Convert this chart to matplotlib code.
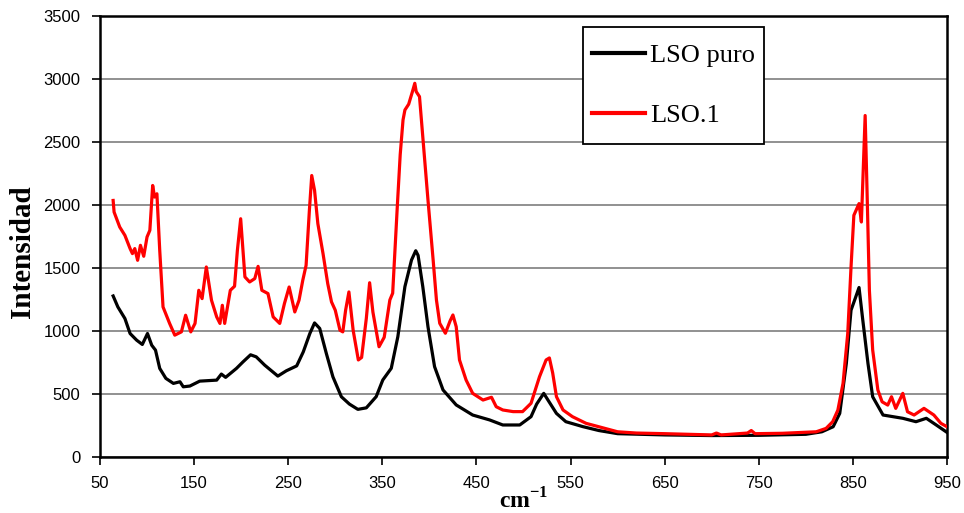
import matplotlib
matplotlib.use("Agg")
import matplotlib.pyplot as plt
import numpy as np

# LSO puro spectrum (wavenumber, intensity)
puro_x = [64, 69, 76.5, 82, 89, 95, 100.5, 105, 109, 113.5, 120, 128, 135, 138.5, 145.5,
          156, 174, 179, 183.5, 195, 202, 210, 216, 225, 239, 248, 259, 266, 273, 278,
          283.5, 290.5, 297.5, 306.5, 315, 324, 333, 343.5, 350.5, 359.5, 366.5, 374,
          381, 385.5, 388, 393, 398.5, 405.5, 414.5, 428.5, 446, 464, 478, 496, 508, 514,
          521.5, 527, 535, 545, 563, 580, 600, 650, 700, 750, 800, 817, 829, 836, 843,
          848, 853, 856.5, 860.5, 866, 871, 882, 903, 917, 928, 938.5, 950]
puro_y = [1278, 1191, 1099, 980, 927, 893, 980, 887, 848, 703, 624, 584, 597, 557, 563,
          602, 610, 658, 632, 703, 755, 811, 795, 729, 642, 684, 723, 834, 980, 1064,
          1020, 822, 636, 478, 420, 378, 390, 479, 611, 704, 955, 1352,
          1563, 1637, 1600, 1352, 1034, 717, 532, 413, 333, 294, 254, 254, 320, 420,
          505, 440, 346, 280, 241, 210, 185, 175, 170, 172, 180, 200, 240, 346, 742,
          1165, 1270, 1345, 1086, 742, 478, 333, 307, 280, 307, 254, 195]

# LSO.1 spectrum
lso1_x = [64, 65, 71, 76.5, 82, 84.5, 87, 90, 93, 96.5, 100, 103, 106, 108, 110.5, 113.5,
          117, 124, 129.5, 136.5, 141, 146.5, 151, 155, 158.5, 163, 168.5, 174, 177.5,
          180, 182.5, 188.5, 193, 196, 199.5, 204, 209, 214.5, 218, 222, 228.5, 234,
          241, 246, 251, 257, 261.5, 265.5, 269, 272.5, 275, 278, 281.5, 287, 292,
          296, 300, 305, 308, 311, 314.5, 319, 324.5, 328, 333, 336.5, 340, 346.5, 352,
          358, 361, 366, 369, 372, 374, 378, 382, 384.5, 386, 389.5, 395, 398.5, 404,
          407.5, 411, 417, 422, 425, 428.5, 432, 439, 446, 457, 466, 471, 478, 489,
          499, 508, 517, 524, 527.5, 531, 535, 542, 552, 566.5, 580, 600, 620, 650,
          700, 705, 710, 738, 742, 746, 775, 811, 821.5, 828.5, 834, 839.5, 844.5,
          848, 851, 856.5, 859, 863, 865, 867.5, 871, 876.5, 881, 887, 891, 895.5,
          903, 908, 915, 925.5, 936, 943.5, 950]
lso1_y = [2036, 1944, 1825, 1759, 1654, 1614, 1654, 1561, 1680, 1593, 1746, 1799, 2155,
          2063, 2089, 1640, 1191, 1060, 967, 993, 1125, 993, 1060, 1323, 1257, 1508,
          1244, 1112, 1060, 1204, 1060, 1323, 1355, 1640, 1891, 1429, 1389, 1416,
          1513, 1323, 1297, 1112, 1060, 1218, 1349, 1151, 1244, 1403, 1521, 1957,
          2234, 2116, 1852, 1614, 1376, 1231, 1165, 1006, 993, 1165, 1310, 1006, 770,
          790, 1100, 1383, 1150, 875, 950, 1246, 1300, 2000, 2400, 2675, 2754, 2800,
          2900, 2966, 2900, 2860, 2357, 2040, 1563, 1246, 1061, 982, 1080, 1127, 1034,
          770, 611, 505, 452, 474, 399, 373, 360, 360, 426, 637, 770, 786, 667, 479,
          373, 320, 267, 240, 200, 190, 185, 175, 190, 175, 190, 210, 185, 188, 200,
          227, 280, 372, 584, 980, 1508, 1918, 2011, 1865, 2710, 2116, 1324, 849, 532,
          438, 412, 478, 386, 505, 359, 333, 386, 333, 267, 240]

x_ticks = list(range(50, 951, 100))
y_ticks = list(range(0, 3501, 500))

tick_font = ["Liberation Sans Narrow", "Liberation Sans", "DejaVu Sans"]
serif_font = ["Liberation Serif", "DejaVu Serif"]

plt.rcParams["mathtext.fontset"] = "custom"
plt.rcParams["mathtext.rm"] = "Liberation Serif"
plt.rcParams["mathtext.bf"] = "Liberation Serif:bold"

fig = plt.figure(figsize=(9.64, 5.13), dpi=100)
ax = fig.add_axes([0.1037, 0.1092, 0.8787, 0.8596])

ax.plot(puro_x, puro_y, color="black", lw=2.3, label="LSO puro", zorder=3)
ax.plot(lso1_x, lso1_y, color="#ff0000", lw=2.3, label="LSO.1", zorder=4)

ax.set_xlim(50, 950)
ax.set_ylim(0, 3500)
ax.set_xticks(x_ticks)
ax.set_yticks(y_ticks)
ax.set_xticklabels([str(t) for t in x_ticks], family=tick_font, fontsize=12)
ax.set_yticklabels([str(t) for t in y_ticks], family=tick_font, fontsize=12)
ax.tick_params(direction="out", length=6, width=1.2, pad=8)

ax.yaxis.grid(True, color="#888888", lw=1.3)
ax.set_axisbelow(True)
for s in ax.spines.values():
    s.set_linewidth(1.8)
    s.set_color("black")

ax.set_ylabel("Intensidad", family=serif_font, fontweight="bold", fontsize=21)
ax.yaxis.set_label_coords(-0.075, 0.465)
ax.set_xlabel(r"$\mathbf{cm}^{\mathbf{-1}}$", fontsize=17)
ax.xaxis.set_label_coords(0.5006, -0.07)

leg = ax.legend(loc="upper left", bbox_to_anchor=(0.5718, 0.9546), frameon=True,
                fancybox=False, edgecolor="black", framealpha=1,
                prop={"family": serif_font, "size": 19},
                handlelength=2.0, handletextpad=0.19, labelspacing=1.39,
                borderpad=0.29, borderaxespad=0)
# taller box than the side padding gives
frame = leg.get_frame()
frame.set_linewidth(1.3)
frame.set_boxstyle("square", pad=0.05)
frame.set_mutation_aspect(6.5)
for line in leg.get_lines():
    line.set_linewidth(3.0)

fig.savefig("out.png", dpi=100)
